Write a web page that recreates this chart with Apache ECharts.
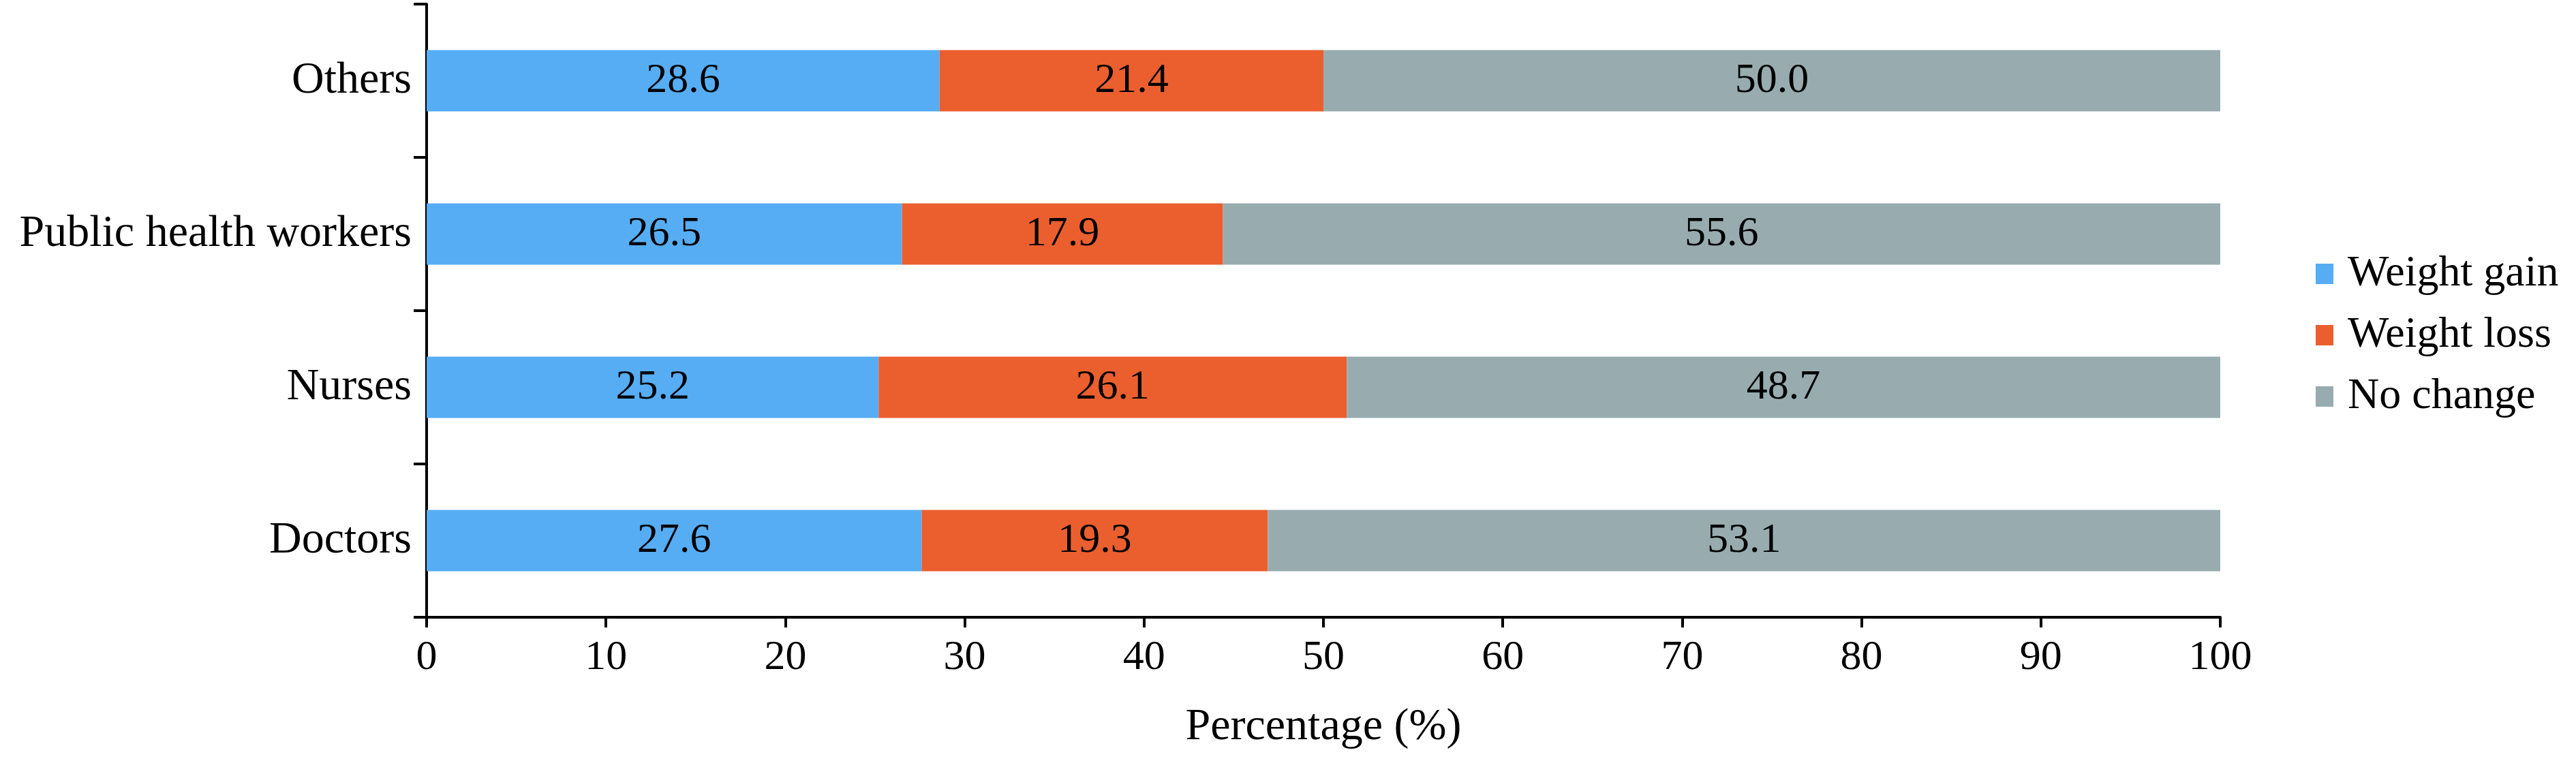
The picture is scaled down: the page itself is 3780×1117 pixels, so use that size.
<!DOCTYPE html>
<html>
<head>
<meta charset="utf-8">
<script src="https://cdn.jsdelivr.net/npm/echarts@6/dist/echarts.min.js"></script>
<style>
html,body{margin:0;padding:0;background:#fff;}
#chart{width:3780px;height:1117px;}
</style>
</head>
<body>
<div id="chart"></div>
<script>
const categories = ['Doctors', 'Nurses', 'Public health workers', 'Others'];
const seriesNames = ['Weight gain', 'Weight loss', 'No change'];
const weightGain = [27.6, 25.2, 26.5, 28.6];
const weightLoss = [19.3, 26.1, 17.9, 21.4];
const noChange = [53.1, 48.7, 55.6, 50.0];
const xTicks = [0, 10, 20, 30, 40, 50, 60, 70, 80, 90, 100];

const FONT = "'Liberation Serif', 'Times New Roman', serif";
const colors = ['#56ADF4', '#EB5F2F', '#98ACB0'];
const dataSets = [weightGain, weightLoss, noChange];

const chart = echarts.init(document.getElementById('chart'), null, {renderer: 'canvas'});
chart.setOption({
  animation: false,
  backgroundColor: '#ffffff',
  grid: {left: 626, right: 522, top: 6, bottom: 211, containLabel: false},
  legend: {
    orient: 'vertical',
    left: 3393,
    top: 365,
    itemWidth: 26,
    itemHeight: 30,
    itemGap: 26,
    icon: 'rect',
    data: seriesNames,
    textStyle: {fontFamily: FONT, fontSize: 64, color: '#000', padding: [0, 0, 0, 16]}
  },
  xAxis: {
    type: 'value',
    min: xTicks[0],
    max: xTicks[xTicks.length - 1],
    interval: xTicks[1] - xTicks[0],
    name: 'Percentage (%)',
    nameLocation: 'middle',
    nameGap: 129,
    nameTextStyle: {fontFamily: FONT, fontSize: 66, color: '#000'},
    axisLine: {show: true, lineStyle: {color: '#000', width: 4}},
    axisTick: {show: true, length: 15, lineStyle: {color: '#000', width: 4}},
    axisLabel: {fontFamily: FONT, fontSize: 62, color: '#000', margin: 29},
    splitLine: {show: false}
  },
  yAxis: {
    type: 'category',
    data: categories,
    axisLine: {show: true, lineStyle: {color: '#000', width: 4}},
    axisTick: {show: true, length: 19, lineStyle: {color: '#000', width: 4}},
    axisLabel: {fontFamily: FONT, fontSize: 66, color: '#000', margin: 22},
    splitLine: {show: false}
  },
  series: seriesNames.map((name, i) => ({
    name: name,
    type: 'bar',
    stack: 'total',
    barWidth: 90,
    data: dataSets[i],
    itemStyle: {color: colors[i]},
    label: {
      show: true,
      position: 'inside',
      fontFamily: FONT,
      fontSize: 62,
      color: '#000',
      formatter: p => Number(p.value).toFixed(1)
    }
  }))
});
</script>
</body>
</html>
